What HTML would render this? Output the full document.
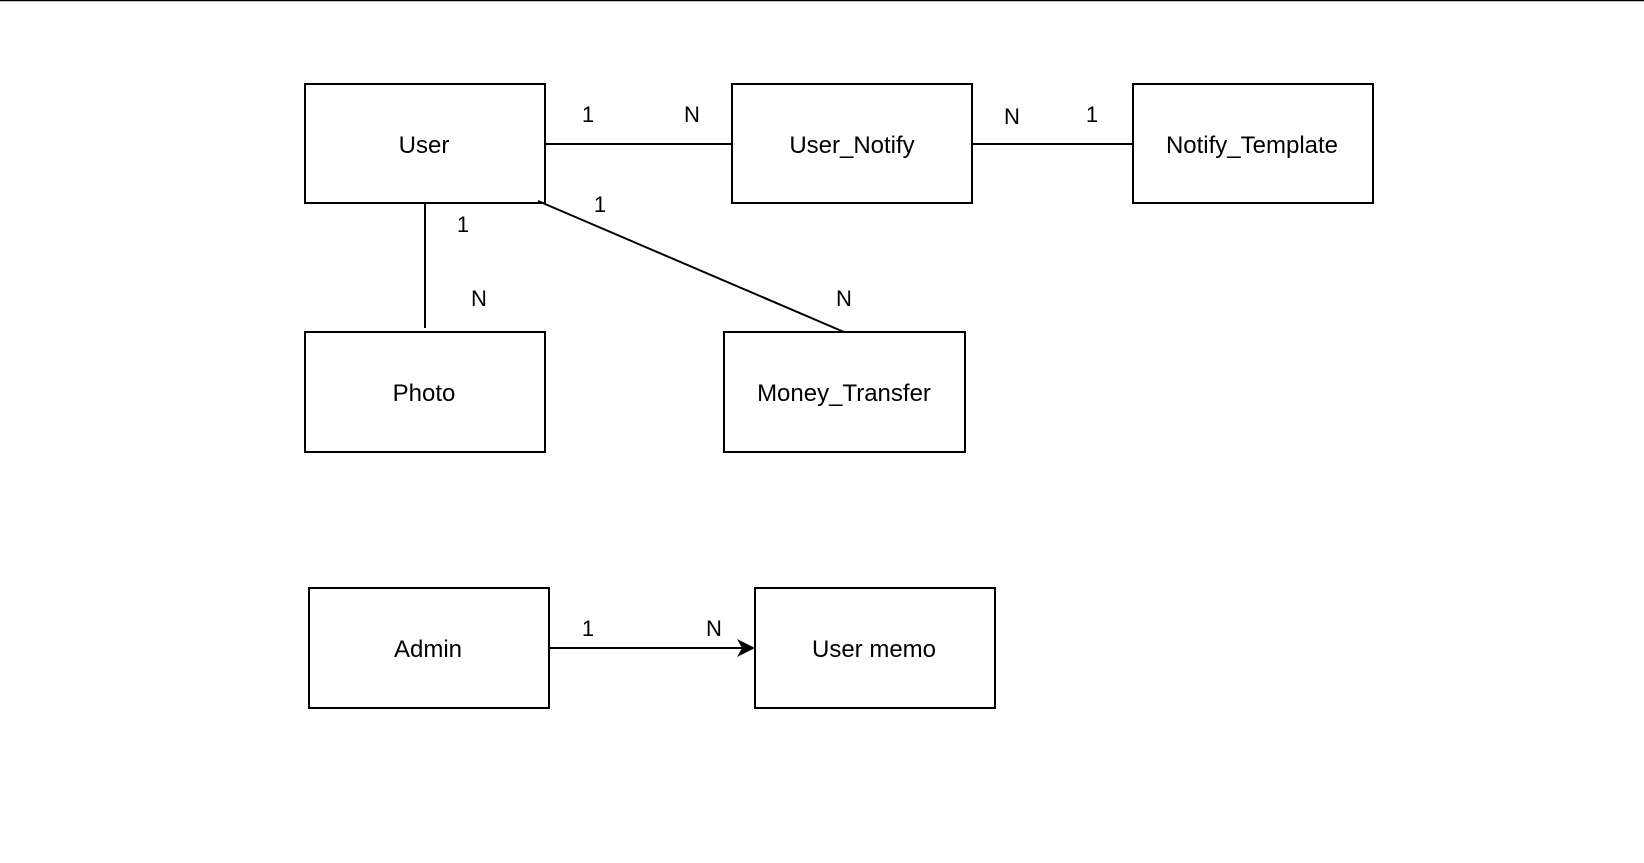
<!DOCTYPE html>
<html><head><style>
html,body{margin:0;padding:0;background:#fff;}
svg{display:block}
text{font-family:"Liberation Sans",Arial,sans-serif;font-size:22px;fill:#000;}
text.b{font-size:24px;}
</style></head><body>
<svg width="1644" height="863" viewBox="0 0 1644 863">
<line x1="0" y1="0.5" x2="1644" y2="0.5" stroke="#000" stroke-width="1.5"/>
<g fill="none" stroke="#000" stroke-width="2">
<rect x="305" y="84" width="240" height="119"/>
<rect x="732" y="84" width="240" height="119"/>
<rect x="1133" y="84" width="240" height="119"/>
<rect x="305" y="332" width="240" height="120"/>
<rect x="724" y="332" width="241" height="120"/>
<rect x="309" y="588" width="240" height="120"/>
<rect x="755" y="588" width="240" height="120"/>
<line x1="545" y1="144" x2="732" y2="144"/>
<line x1="972" y1="144" x2="1133" y2="144"/>
<line x1="425" y1="203" x2="425" y2="328"/>
<line x1="538" y1="201" x2="844" y2="332"/>
<line x1="549" y1="648" x2="745" y2="648"/>
</g>
<path d="M755 648 L737 639 L742 648 L737 657 Z" fill="#000"/>
<g text-anchor="middle">
<text class="b" x="424" y="153">User</text>
<text class="b" x="852" y="153">User_Notify</text>
<text class="b" x="1252" y="153">Notify_Template</text>
<text class="b" x="424" y="401">Photo</text>
<text class="b" x="844" y="401">Money_Transfer</text>
<text class="b" x="428" y="657">Admin</text>
<text class="b" x="874" y="657">User memo</text>
<text x="588" y="122">1</text>
<text x="692" y="122">N</text>
<text x="1012" y="124">N</text>
<text x="1092" y="122">1</text>
<text x="463" y="232">1</text>
<text x="479" y="306">N</text>
<text x="600" y="212">1</text>
<text x="844" y="306">N</text>
<text x="588" y="636">1</text>
<text x="714" y="636">N</text>
</g>
</svg>
</body></html>
